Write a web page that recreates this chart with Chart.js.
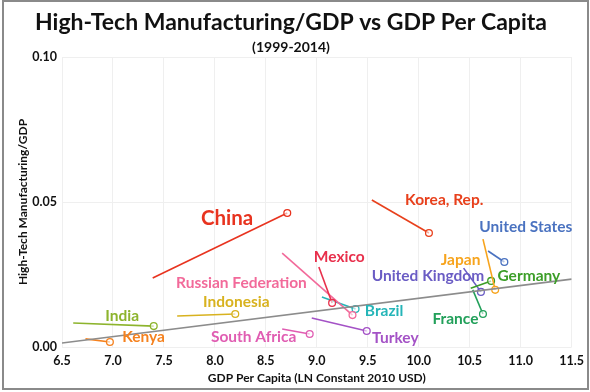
<!DOCTYPE html>
<html>
<head>
<meta charset="utf-8">
<script src="https://cdn.jsdelivr.net/npm/chart.js@4/dist/chart.umd.min.js"></script>
<style>
html,body{margin:0;padding:0;background:#fff;}
#wrap{width:590px;height:392px;position:relative;}
</style>
</head>
<body>
<div id="wrap"><canvas id="c" width="590" height="392"></canvas></div>
<script>
// ---- data ----
const countries = ["China","Korea, Rep.","United States","Japan","Germany","France","United Kingdom","Mexico","Russian Federation","Brazil","Turkey","South Africa","India","Indonesia","Kenya"];
const gdp1999    = [7.39, 9.54, 10.68, 10.63, 10.51, 10.53, 10.44, 9.02, 8.66, 9.05, 8.95, 8.66, 6.61, 7.63, 6.73];
const hitech1999 = [0.0238, 0.0507, 0.0331, 0.0372, 0.0203, 0.0197, 0.0272, 0.0276, 0.0324, 0.0172, 0.0100, 0.0062, 0.0083, 0.0107, 0.0028];
const gdp2014    = [8.71, 10.10, 10.84, 10.75, 10.71, 10.63, 10.61, 9.15, 9.35, 9.38, 9.49, 8.93, 7.40, 8.20, 6.97];
const hitech2014 = [0.0462, 0.0393, 0.0293, 0.0197, 0.0228, 0.0114, 0.0190, 0.0152, 0.0110, 0.0131, 0.0055, 0.0045, 0.0072, 0.0114, 0.0017];
const trendX = [6.5, 11.5];
const trendY = [0.0014, 0.0234];
const xTicks = [6.5, 7.0, 7.5, 8.0, 8.5, 9.0, 9.5, 10.0, 10.5, 11.0, 11.5];
const yTicks = [0.00, 0.05, 0.10];

// ---- styling (not data) ----
const colors = ["#E8331F","#E8401C","#4A72C0","#F7A41D","#3C9E28","#22A05A","#6A5CC4","#E8304C","#F26A9A","#25B5B8","#A452C6","#E05DB2","#8DB42D","#D8B21F","#F5821F"];
const labelX = [8.12, 10.25, 11.05, 10.41, 11.08, 10.36, 10.09, 9.22, 8.26, 9.66, 9.77, 8.38, 7.09, 8.21, 7.30];
const labelY = [0.0445, 0.0507, 0.0414, 0.0300, 0.0245, 0.0097, 0.0245, 0.0310, 0.0221, 0.0124, 0.0031, 0.0034, 0.0107, 0.0155, 0.0034];
const labelSize = countries.map(c => c === "China" ? 20.5 : 15.5);

const FONT = "Lato, 'Open Sans', sans-serif";

const datasets = countries.map((name, i) => ({
  label: name,
  data: [{x: gdp1999[i], y: hitech1999[i]}, {x: gdp2014[i], y: hitech2014[i]}],
  borderColor: colors[i],
  backgroundColor: "#ffffff",
  borderWidth: 1.6,
  pointRadius: [0, 3.4],
  pointBorderWidth: 1.3,
  pointBorderColor: colors[i],
  pointBackgroundColor: "rgba(255,255,255,0.6)",
  showLine: true,
  tension: 0
}));
datasets.unshift({
  label: "Trend",
  data: trendX.map((x, i) => ({x: x, y: trendY[i]})),
  borderColor: "#8C8C8C",
  borderWidth: 1.6,
  pointRadius: 0,
  showLine: true
});

const labelPlugin = {
  id: "countryLabels",
  afterDatasetsDraw(chart) {
    const ctx = chart.ctx, xs = chart.scales.x, ys = chart.scales.y;
    ctx.save();
    ctx.textAlign = "center";
    ctx.textBaseline = "middle";
    countries.forEach((name, i) => {
      ctx.font = "bold " + labelSize[i] + "px " + FONT;
      ctx.fillStyle = colors[i];
      ctx.fillText(name, xs.getPixelForValue(labelX[i]), ys.getPixelForValue(labelY[i]));
    });
    ctx.restore();
  }
};
const borderPlugin = {
  id: "outerBorder",
  beforeDraw(chart) {
    const ctx = chart.ctx;
    ctx.save();
    ctx.fillStyle = "#ffffff";
    ctx.fillRect(0, 0, chart.width, chart.height);
    ctx.restore();
  },
  afterDraw(chart) {
    const ctx = chart.ctx;
    ctx.save();
    ctx.strokeStyle = "#8a8a8a";
    ctx.lineWidth = 2;
    ctx.strokeRect(3, 1, 585, 388);
    ctx.restore();
  }
};

new Chart(document.getElementById("c"), {
  type: "scatter",
  data: {datasets: datasets},
  plugins: [labelPlugin, borderPlugin],
  options: {
    responsive: false,
    animation: false,
    layout: {padding: {top: 0, right: 8, bottom: 0, left: 0}},
    plugins: {
      legend: {display: false},
      tooltip: {enabled: false},
      title: {
        display: true,
        text: "High-Tech Manufacturing/GDP vs GDP Per Capita",
        color: "#111",
        font: {family: FONT, size: 23, weight: "bold", lineHeight: 1.2},
        padding: {top: 9, bottom: 2}
      },
      subtitle: {
        display: true,
        text: "(1999-2014)",
        color: "#111",
        font: {family: FONT, size: 14, weight: "bold", lineHeight: 1.2},
        padding: {top: 0, bottom: 1.6}
      }
    },
    scales: {
      x: {
        type: "linear",
        min: xTicks[0], max: xTicks[xTicks.length - 1],
        afterBuildTicks(s) { s.ticks = xTicks.map(v => ({value: v})); },
        afterFit(s) { s.height = 45; },
        grid: {color: "#EFEFEF", drawTicks: false},
        border: {display: false},
        ticks: {
          color: "#111", padding: 6,
          font: {family: FONT, size: 12.5, weight: "bold"},
          callback: v => Number(v).toFixed(1)
        },
        title: {
          display: true, text: "GDP Per Capita (LN Constant 2010 USD)", color: "#111",
          font: {family: FONT, size: 12, weight: "bold", lineHeight: 1.2},
          padding: {top: 0, bottom: 7}
        }
      },
      y: {
        type: "linear",
        min: yTicks[0], max: yTicks[yTicks.length - 1],
        afterBuildTicks(s) { s.ticks = yTicks.map(v => ({value: v})); },
        afterFit(s) { s.width = 62; },
        grid: {color: "#EFEFEF", drawTicks: false},
        border: {display: false},
        ticks: {
          color: "#111", padding: 5,
          font: {family: FONT, size: 12.5, weight: "bold"},
          callback: v => Number(v).toFixed(2)
        },
        title: {
          display: true, text: "High-Tech Manufacturing/GDP", color: "#111",
          font: {family: FONT, size: 12, weight: "bold", lineHeight: 1.2},
          padding: {top: 16, bottom: 0}
        }
      }
    }
  }
});
</script>
</body>
</html>
